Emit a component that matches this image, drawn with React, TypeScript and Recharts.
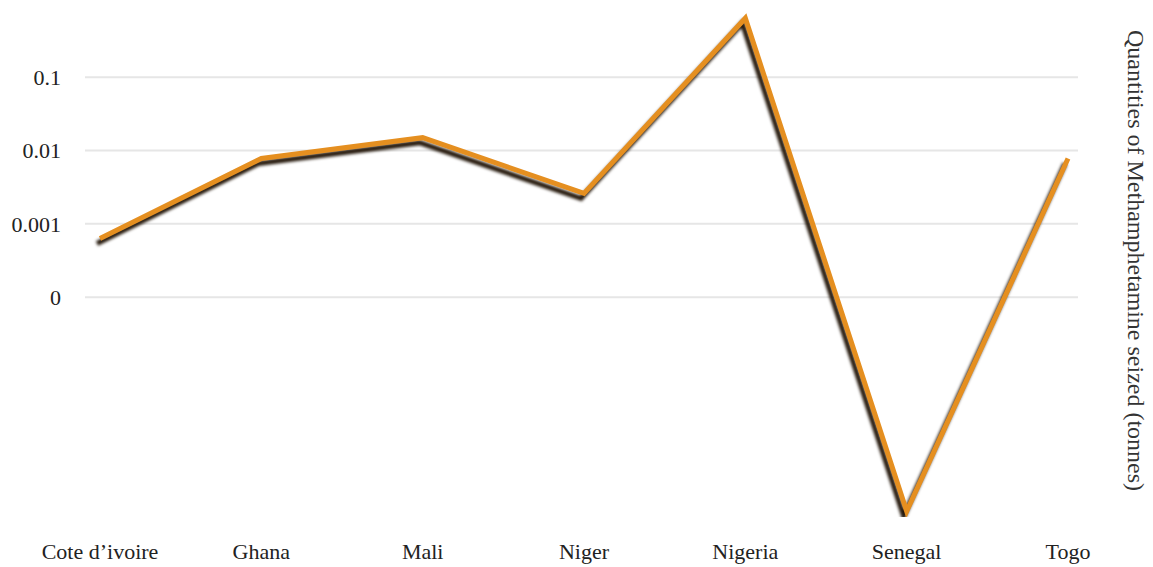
import { LineChart, Line, XAxis, YAxis, ReferenceLine } from "recharts";

const countries = ["Cote d’ivoire", "Ghana", "Mali", "Niger", "Nigeria", "Senegal", "Togo"];
const seized = [0.00063, 0.0078, 0.015, 0.0026, 0.64, 0.00000012, 0.0078];
const yTicks = [0.0001, 0.001, 0.01, 0.1];
const yLabels: Record<number, string> = { 0.0001: "0", 0.001: "0.001", 0.01: "0.01", 0.1: "0.1" };

const data = countries.map((country, i) => ({ country, seized: seized[i] }));

const serif = "Liberation Serif, Times New Roman, Times, serif";

const App = () => (
  <div style={{ position: "absolute", left: 0, top: 0, background: "#fff", fontFamily: serif }}>
    <style>{`.meth-line .recharts-line-curve { filter: drop-shadow(-3px 5px 1.5px #24170a); }
.recharts-text { font-family: ${serif}; }`}</style>
    <LineChart
      width={1153}
      height={567}
      data={data}
      margin={{ top: 4, right: 0, bottom: 0, left: 0 }}
      style={{ fontFamily: serif }}
    >
      {yTicks.map((t) => (
        <ReferenceLine key={t} y={t} stroke="#e6e6e6" strokeWidth={2} />
      ))}
      <XAxis
        dataKey="country"
        axisLine={false}
        tickLine={false}
        height={50}
        tickMargin={20}
        padding={{ left: 15, right: 10 }}
        tick={{ fontFamily: serif, fontSize: 22, fill: "#222" }}
        interval={0}
      />
      <YAxis
        scale="log"
        domain={[0.0000001, 1]}
        allowDataOverflow
        ticks={yTicks}
        tickFormatter={(v: number) => yLabels[v] ?? String(v)}
        axisLine={false}
        tickLine={false}
        width={85}
        tickMargin={18}
        tick={{ fontFamily: serif, fontSize: 22, fill: "#222" }}
      />
      <YAxis
        yAxisId="right"
        orientation="right"
        width={75}
        tick={false}
        axisLine={false}
        tickLine={false}
        label={{
          value: "Quantities of Methamphetamine seized (tonnes)",
          angle: 90,
          position: "center",
          dx: 21,
          style: { fontFamily: serif, fontSize: 24, fill: "#333" },
        }}
      />
      <Line
        className="meth-line"
        type="linear"
        dataKey="seized"
        stroke="#e58f20"
        strokeWidth={5}
        dot={false}
        isAnimationActive={false}
      />
    </LineChart>
  </div>
);

export default App;
